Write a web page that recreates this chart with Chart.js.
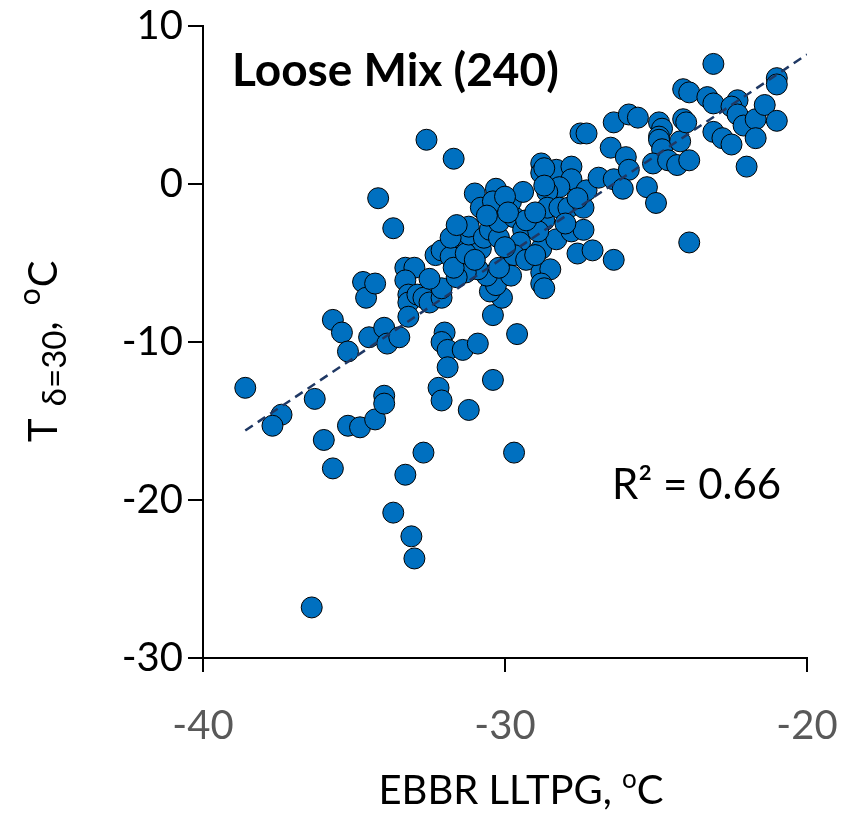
<!DOCTYPE html>
<html>
<head>
<meta charset="utf-8">
<script src="https://cdn.jsdelivr.net/npm/chart.js@4.4.0/dist/chart.umd.min.js"></script>
<style>
  html, body { margin: 0; padding: 0; background: #fff; }
  #wrap { width: 852px; height: 814px; }
</style>
</head>
<body>
<div id="wrap"><canvas id="chart" width="852" height="814"></canvas></div>
<script>
// EBBR LLTPG (x) vs T δ=30 (y), Loose Mix
const looseMixX = [
  -38.6, -37.4, -37.7, -36.4, -36.3, -36.0, -35.7, -35.7, -35.4, -35.2,
  -35.2, -34.8, -34.7, -34.6, -34.3, -34.5, -34.2, -34.3, -34.0, -34.0,
  -34.0, -33.9, -33.7, -33.7, -33.5, -33.3, -33.1, -33.0, -33.3, -33.0,
  -33.3, -33.2, -33.2, -33.2, -32.9, -32.7, -32.6, -31.7, -32.3, -32.1,
  -31.8, -32.7, -32.5, -32.1, -32.1, -32.0, -32.1, -31.9, -31.4, -30.9,
  -31.9, -32.2, -32.1, -31.2, -30.4, -29.7, -29.6, -30.4, -30.1, -30.5,
  -30.3, -29.8, -30.6, -30.9, -31.3, -31.6, -31.7, -31.4, -31.2, -30.8,
  -31.3, -31.2, -31.2, -30.7, -30.5, -30.2, -30.2, -29.7, -29.4, -29.5,
  -30.2, -29.7, -29.3, -28.8, -28.8, -28.5, -28.8, -28.7, -28.3, -28.7,
  -28.9, -29.3, -31.0, -30.8, -30.3, -30.4, -29.8, -29.4, -28.8, -28.8,
  -28.3, -27.8, -27.8, -28.2, -28.6, -28.6, -28.2, -27.9, -27.4, -27.3,
  -26.9, -26.4, -27.8, -27.4, -27.6, -27.1, -26.4, -27.5, -27.3, -26.4,
  -26.5, -26.0, -25.9, -26.1, -25.9, -25.6, -24.9, -24.8, -24.9, -24.9,
  -24.8, -25.1, -25.3, -25.0, -24.6, -24.3, -24.2, -23.9, -24.1, -24.0,
  -24.1, -23.9, -23.1, -23.3, -23.1, -23.1, -22.8, -22.5, -22.3, -22.5,
  -22.3, -22.1, -21.7, -21.7, -22.0, -21.4, -21.0, -21.0, -21.0, -23.9,
  -28.7, -28.7, -31.8, -30.0, -29.0, -31.0, -30.0, -29.0, -28.0, -32.5,
  -30.6, -29.9, -31.6, -27.6
];
const looseMixY = [
  -12.9, -14.6, -15.3, -26.8, -13.6, -16.2, -18.0, -8.6, -9.4, -10.6,
  -15.3, -15.4, -6.2, -7.2, -6.3, -9.7, -0.9, -14.9, -13.4, -13.9,
  -9.1, -10.1, -2.8, -20.8, -9.7, -18.4, -22.3, -23.7, -5.3, -5.3,
  -6.1, -7.0, -7.5, -8.4, -7.0, -17.0, 2.8, 1.6, -4.5, -4.2,
  -4.6, -7.2, -7.5, -7.2, -6.6, -9.4, -10.0, -10.5, -10.5, -10.1,
  -11.6, -12.9, -13.7, -14.3, -12.4, -17.0, -9.5, -8.3, -7.2, -6.8,
  -6.4, -5.8, -5.8, -5.4, -5.6, -5.9, -5.3, -3.5, -3.9, -4.1,
  -4.4, -3.2, -2.7, -3.4, -2.9, -3.4, -2.4, -2.1, -2.9, -3.7,
  -5.3, -4.5, -4.8, -4.1, -5.6, -5.4, -6.3, -6.6, -3.5, -2.3,
  -3.0, -2.3, -0.6, -1.5, -0.3, -1.1, -1.1, -0.5, 1.3, 0.7,
  0.9, 1.1, 0.3, -0.2, -0.5, -1.5, -1.5, -1.5, -1.5, -0.4,
  0.4, 0.3, -3.0, -2.9, -4.4, -4.2, -4.8, 3.2, 3.2, 3.9,
  2.3, 1.7, 0.9, -0.3, 4.4, 4.2, 3.9, 3.5, 3.0, 2.8,
  2.2, 1.3, -0.2, -1.2, 1.5, 1.2, 2.7, 1.5, 4.1, 3.9,
  6.0, 5.8, 7.6, 5.5, 5.1, 3.3, 2.9, 2.5, 5.3, 4.9,
  4.4, 3.7, 4.1, 2.9, 1.1, 5.0, 4.0, 6.7, 6.3, -3.7,
  1.0, -0.1, -3.4, -0.8, -1.8, -4.8, -4.0, -4.5, -2.5, -6.0,
  -2.0, -1.8, -2.6, -0.9
];

// Linear trendline end points as drawn
const trendX = [-38.6, -20.0];
const trendY = [-15.6, 8.2];

const titleText = 'Loose Mix (240)';
const r2Text = 'R² = 0.66';

const FONT = 'Lato, "Open Sans", sans-serif';

// Drawing of titles and annotation texts
const textPlugin = {
    id: 'texts',
    afterDraw(chart) {
        const ctx = chart.ctx;
        ctx.save();
        ctx.fillStyle = '#000';
        ctx.textBaseline = 'alphabetic';

        // Chart title inside the plot
        ctx.font = 'bold 46px ' + FONT;
        ctx.textAlign = 'left';
        ctx.fillText(titleText, 232, 86);

        // R²
        ctx.font = '42px ' + FONT;
        ctx.fillText(r2Text, 612, 499);

        // X axis title: EBBR LLTPG, °C
        const xMain = 'EBBR LLTPG, ';
        ctx.font = '40px ' + FONT;
        const w1 = ctx.measureText(xMain).width;
        ctx.font = '26px ' + FONT;
        const w2 = ctx.measureText('o').width;
        ctx.font = '40px ' + FONT;
        const w3 = ctx.measureText('C').width;
        let x0 = 521 - (w1 + w2 + w3) / 2;
        ctx.fillText(xMain, x0, 804);
        ctx.font = '26px ' + FONT;
        ctx.fillText('o', x0 + w1, 788);
        ctx.font = '40px ' + FONT;
        ctx.fillText('C', x0 + w1 + w2, 804);

        // Y axis title: T δ=30, °C (rotated)
        ctx.translate(57, 442);
        ctx.rotate(-Math.PI / 2);
        let u = 0;
        ctx.font = '40px ' + FONT;
        ctx.fillText('T', u, 0);
        u += ctx.measureText('T ').width + 2;
        ctx.font = '33px ' + FONT;
        ctx.fillText('δ=30', u, 9);
        u += ctx.measureText('δ=30').width;
        ctx.font = '40px ' + FONT;
        ctx.fillText(', ', u, 0);
        u += ctx.measureText(', ').width + 6;
        ctx.font = '30px ' + FONT;
        ctx.fillText('o', u, -17);
        u += ctx.measureText('o').width + 1;
        ctx.font = '40px ' + FONT;
        ctx.fillText('C', u, 0);

        ctx.restore();
    }
};

const points = looseMixX.map((x, i) => ({ x: x, y: looseMixY[i] }));
const trend = trendX.map((x, i) => ({ x: x, y: trendY[i] }));

new Chart(document.getElementById('chart'), {
    type: 'scatter',
    data: {
        datasets: [
            {
                type: 'line',
                data: trend,
                borderColor: '#1F3864',
                borderWidth: 2.5,
                borderDash: [9, 6],
                pointRadius: 0,
                fill: false,
                order: 0
            },
            {
                data: points,
                backgroundColor: '#0070C0',
                borderColor: '#000000',
                borderWidth: 1,
                pointRadius: 10.5,
                order: 1
            }
        ]
    },
    options: {
        responsive: false,
        animation: false,
        layout: {
            padding: { top: 26, right: 45, left: 0, bottom: 0 }
        },
        plugins: {
            legend: { display: false },
            tooltip: { enabled: false }
        },
        scales: {
            x: {
                type: 'linear',
                min: -40,
                max: -20,
                afterFit(scale) {
                    scale.height = 156;
                    scale.paddingLeft = 0;
                    scale.paddingRight = 0;
                },
                ticks: {
                    stepSize: 10,
                    color: '#595959',
                    font: { family: FONT, size: 40 },
                    padding: 30
                },
                grid: {
                    drawOnChartArea: false,
                    drawTicks: true,
                    tickLength: 14,
                    color: '#000',
                    lineWidth: 2
                },
                border: { display: true, color: '#000', width: 2 }
            },
            y: {
                min: -30,
                max: 10,
                afterFit(scale) {
                    scale.width = 203;
                    scale.paddingTop = 0;
                    scale.paddingBottom = 0;
                },
                ticks: {
                    stepSize: 10,
                    color: '#000',
                    font: { family: FONT, size: 40 },
                    padding: 5
                },
                grid: {
                    drawOnChartArea: false,
                    drawTicks: true,
                    tickLength: 15,
                    color: '#000',
                    lineWidth: 2
                },
                border: { display: true, color: '#000', width: 2 }
            }
        }
    },
    plugins: [textPlugin]
});
</script>
</body>
</html>
